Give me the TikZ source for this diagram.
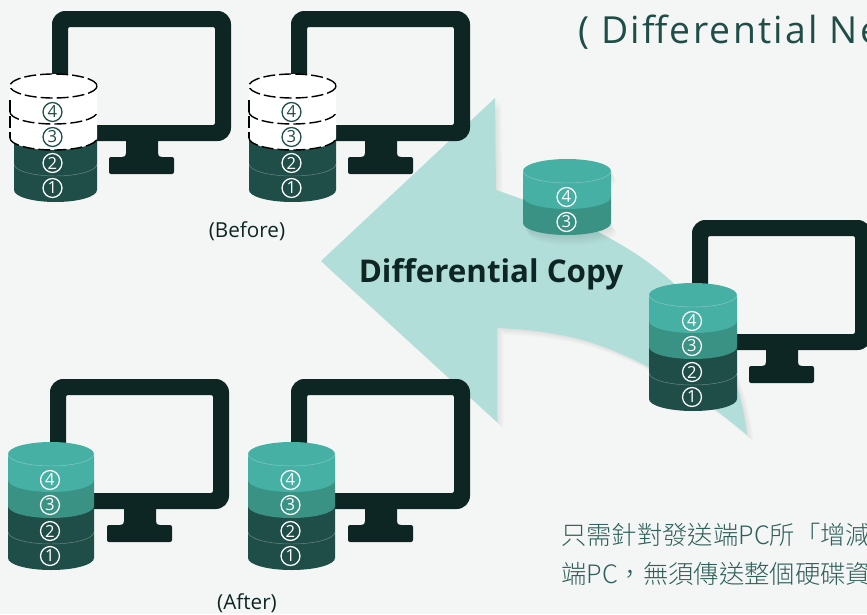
\documentclass[tikz,border=0pt]{standalone}
\usepackage{fontspec}
\setmainfont{Open Sans}
\newfontfamily\cjk{Noto Sans CJK TC Light}
\newfontfamily\titlefont[LetterSpace=6]{Open Sans}
\definecolor{bgc}{HTML}{F4F6F6}
\definecolor{mon}{HTML}{0E2623}
\definecolor{dk}{HTML}{1F4D47}
\definecolor{md}{HTML}{3A9285}
\definecolor{tl}{HTML}{45B0A3}
\definecolor{arw}{HTML}{B2DED9}
\definecolor{ttl}{HTML}{1F4D47}
\definecolor{cjkc}{HTML}{2F5F59}
\tikzset{
 num/.style={circle,draw=#1,text=#1,line width=0.95pt,inner sep=0pt,minimum size=14.2pt,font=\fontsize{12.5}{12.5}\selectfont},
 num/.default=white,
 thinarc/.style={draw=white,draw opacity=0.35,line width=0.35pt},
 dashline/.style={draw=black,line width=1.05pt,dash pattern=on 9pt off 3pt},
 lbl/.style={text=mon,font=\fontsize{15.5}{15.5}\selectfont},
 softshade/.style={black,opacity=0.01},
}
\newcommand{\arrowshape}{(321,261) -- (495,98) -- (496,190) .. controls (590,222) and (650,255) .. (690,300)
  .. controls (725,340) and (742,390) .. (747,435)
  .. controls (700,395) and (650,362) .. (590,342) .. controls (560,333) and (525,329) .. (497,328)
  -- (497,422) -- cycle}
% monitor at top-left corner
\newcommand{\monitorat}[2]{%
 \begin{scope}[shift={(#1,#2)}]
 \fill[mon,even odd rule,rounded corners=10pt] (0,0) rectangle (179,130) {[rounded corners=1.5pt] (16,16) rectangle (163,114)};
 \fill[mon] (74,128) -- (106,128) -- (106,142) .. controls (106,145) and (107,146) .. (110,146) -- (70,146) .. controls (73,146) and (74,145) .. (74,142) -- cycle;
 \fill[mon,rounded corners=1.5pt] (57,146) rectangle (122,163);
 \end{scope}}
% one cylinder slice: centre x, side-top y, radius, colour
\newcommand{\slice}[4]{%
 \fill[#4] (#1-#3,#2) -- (#1-#3,#2+26) arc[start angle=180,end angle=0,x radius=#3,y radius=12] -- (#1+#3,#2) arc[start angle=0,end angle=-180,x radius=#3,y radius=12] -- cycle;}
\newcommand{\lowarc}[3]{%
 (#1-#3,#2) arc[start angle=180,end angle=0,x radius=#3,y radius=12]}
\newcommand{\darkpair}[3]{%
 \slice{#1}{#2+26}{#3}{dk}\slice{#1}{#2}{#3}{dk}
 \path[thinarc] \lowarc{#1}{#2+26}{#3};}
\newcommand{\fullstack}[4]{% name cx ytop r
 \darkpair{#2}{#3+52}{#4}
 \slice{#2}{#3+26}{#4}{md}
 \slice{#2}{#3}{#4}{tl}
 \path[thinarc] \lowarc{#2}{#3}{#4};
 \node[num] (#1d) at (#2-1,#3+26) {4};
 \node[num] (#1c) at (#2-1,#3+51) {3};
 \node[num] (#1b) at (#2-1,#3+77) {2};
 \node[num] (#1a) at (#2-1,#3+102) {1};}
\newcommand{\ghoststack}[6]{% name cx ytop r cxwhite rwhite
 \darkpair{#2}{#3+52}{#4}
 \slice{#5}{#3+26}{#6}{white}
 \slice{#5}{#3}{#6}{white}
 \draw[dashline] (#5,#3) ellipse[x radius=#6,y radius=12];
 \draw[dashline] \lowarc{#5}{#3+26}{#6};
 \draw[dashline] \lowarc{#5}{#3+52}{#6};
 \draw[dashline] (#5-#6,#3+14) -- (#5-#6,#3+52);
 \node[num=dk] (#1d) at (#5-1,#3+26) {4};
 \node[num=dk] (#1c) at (#5-1,#3+51) {3};
 \node[num] (#1b) at (#5-1,#3+77) {2};
 \node[num] (#1a) at (#5-1,#3+102) {1};}
\begin{document}
\begin{tikzpicture}[x=0.75pt,y=-0.75pt]
\useasboundingbox (0,0) rectangle (867,614);
\clip (0,0) rectangle (867,614);
\fill[bgc] (0,0) rectangle (867,614);
% arrow with a soft shadow
\foreach \s in {1,2,...,7} {\fill[softshade,shift={(\s,\s)}] \arrowshape;}
\fill[arw] \arrowshape;
% monitors
\monitorat{52}{11}
\monitorat{291}{11}
\monitorat{50}{379}
\monitorat{291}{379}
\monitorat{692}{220}
% stacks
\ghoststack{ba}{55.5}{86}{41.5}{53.5}{43.5}
\ghoststack{bb}{292.5}{86}{43.5}{292.5}{43.5}
\fullstack{aa}{51}{454}{43}
\fullstack{ab}{291.5}{454}{43.5}
\fullstack{rr}{693}{295}{44}
% travelling slices
\foreach \s in {2,4,...,10} {\fill[black,opacity=0.02] (567+\s/2,171+\s) ellipse[x radius=44,y radius=12]; \fill[black,opacity=0.02] (567+\s/2,223+\s) ellipse[x radius=44,y radius=12];}
\slice{567}{197}{44}{md}
\slice{567}{171}{44}{tl}
\path[thinarc] \lowarc{567}{171}{44};
\node[num] (sd) at (566.5,197) {4};
\node[num] (sc) at (566.5,222) {3};
% text
\node[lbl] (before) at (247,231) {(Before)};
\node[lbl] (after) at (247,603) {(After)};
\node[text=mon,font=\fontsize{23.5}{23.5}\selectfont\bfseries] (copy) at (491,274) {Differential Copy};
\node[anchor=base west,inner sep=0pt,text=ttl,font=\fontsize{28}{28}\titlefont] (title) at (578,43) {( Differential Ne};
\node[anchor=base west,inner sep=0pt,text=cjkc,font=\fontsize{19}{19}\cjk] (l1) at (561,544) {只需針對發送端PC所「增減};
\node[anchor=base west,inner sep=0pt,text=cjkc,font=\fontsize{19}{19}\cjk] (l2) at (561,583) {端PC，無須傳送整個硬碟資};
\end{tikzpicture}
\end{document}
